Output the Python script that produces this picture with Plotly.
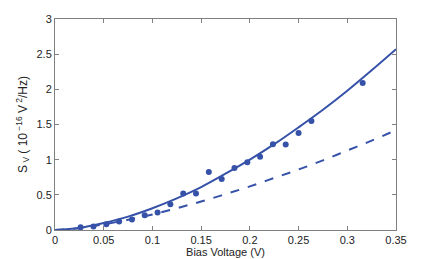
import plotly.graph_objects as go

# Measured data points
bias_v = [0.0263, 0.0395, 0.0527, 0.0658, 0.0790, 0.0921, 0.1053, 0.1184, 0.1316, 0.1447,
          0.1579, 0.1711, 0.1842, 0.1974, 0.2105, 0.2237, 0.2368, 0.2500, 0.2632, 0.3158]
sv_meas = [0.038, 0.05, 0.08, 0.12, 0.15, 0.21, 0.25, 0.365, 0.52, 0.52,
           0.825, 0.725, 0.88, 0.963, 1.043, 1.219, 1.215, 1.38, 1.55, 2.09]

# Fit curves
curve_v = [0.0, 0.025, 0.05, 0.075, 0.1, 0.125, 0.15, 0.175, 0.2, 0.225, 0.25, 0.275, 0.3, 0.325, 0.35]
sv_solid = [0.0, 0.03, 0.1, 0.19, 0.31, 0.45, 0.61, 0.8, 1.0, 1.22, 1.46, 1.71, 1.98, 2.27, 2.57]
sv_dashed = [0.0, 0.026, 0.08, 0.145, 0.22, 0.31, 0.405, 0.51, 0.62, 0.74, 0.86, 0.99, 1.13, 1.27, 1.42]

x_ticks = [0, 0.05, 0.1, 0.15, 0.2, 0.25, 0.3, 0.35]
x_tick_labels = ["0", "0.05", "0.1", "0.15", "0.2", "0.25", "0.3", "0.35"]
y_ticks = [0, 0.5, 1, 1.5, 2, 2.5, 3]
y_tick_labels = ["0", "0.5", "1", "1.5", "2", "2.5", "3"]

blue = "#3551A8"
font_family = "Liberation Sans, Arial"

fig = go.Figure()
fig.add_trace(go.Scatter(x=curve_v, y=sv_dashed, mode="lines", line_shape="spline",
                         line=dict(color=blue, width=2, dash="dash"), showlegend=False))
fig.add_trace(go.Scatter(x=curve_v, y=sv_solid, mode="lines", line_shape="spline",
                         line=dict(color=blue, width=2), showlegend=False))
fig.add_trace(go.Scatter(x=bias_v, y=sv_meas, mode="markers",
                         marker=dict(color=blue, size=6), showlegend=False))

axis_common = dict(showgrid=False, zeroline=False, showline=True, linecolor="#808080",
                   linewidth=1, mirror="ticks", ticks="inside", ticklen=4, tickcolor="#808080",
                   automargin=False,
                   tickfont=dict(family=font_family, size=11, color="#222222"))

fig.update_layout(
    width=436, height=259,
    margin=dict(l=55, r=40, t=19, b=29),
    paper_bgcolor="white", plot_bgcolor="white",
    xaxis=dict(range=[0, 0.35], tickvals=x_ticks, ticktext=x_tick_labels,
               title=dict(text="Bias Voltage (V)", standoff=0,
                          font=dict(family=font_family, size=11, color="#222222")),
               **axis_common),
    yaxis=dict(range=[0, 3], tickvals=y_ticks, ticktext=y_tick_labels,
               title=dict(text="S<sub> V</sub> ( 10<sup> −16</sup> V<sup> 2</sup>/Hz)", standoff=6,
                          font=dict(family=font_family, size=12, color="#222222")),
               **axis_common),
)

fig.write_html("out.html", config={"displayModeBar": False},
               post_script="document.body.style.margin='0';")
